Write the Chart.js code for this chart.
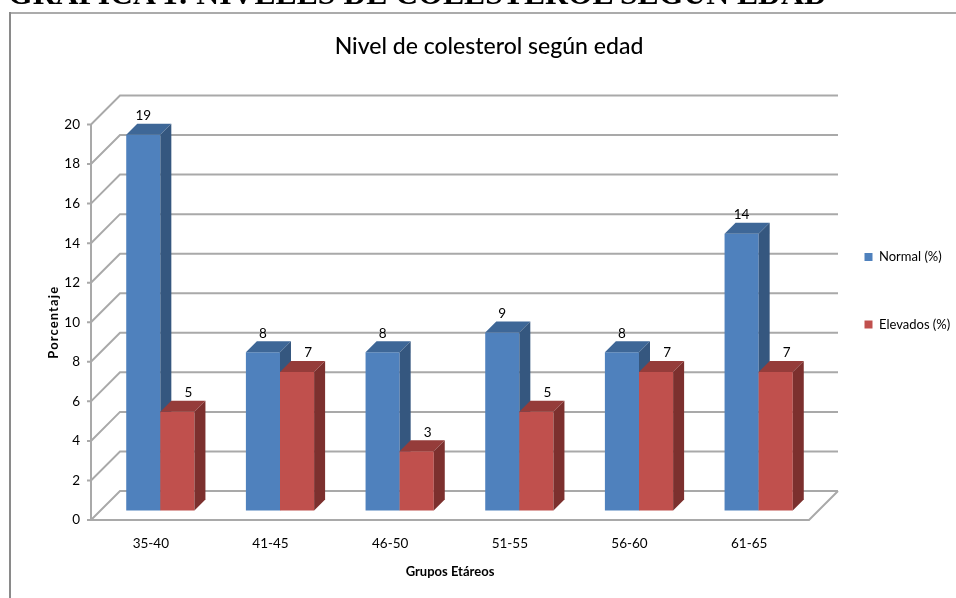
<!DOCTYPE html>
<html lang="es">
<head>
<meta charset="utf-8">
<title>Nivel de colesterol según edad</title>
<script src="https://cdn.jsdelivr.net/npm/chart.js@4.4.1/dist/chart.umd.min.js"></script>
<style>
  html, body { margin: 0; padding: 0; background: #fff; }
  body { width: 956px; height: 598px; position: relative; overflow: hidden; }
  #heading {
    position: absolute; left: 8px; top: -22.3px;
    font: bold 31.7px/32px "Liberation Serif", "Times New Roman", serif;
    color: #000; white-space: nowrap;
  }
  #frameTop { position: absolute; left: 9px; top: 12px; width: 947px; height: 0; border-top: 2px solid #ababab; }
  #frameLeft { position: absolute; left: 9px; top: 12px; width: 0; height: 586px; border-left: 2px solid #8a8a8a; }
  #wrap { position: absolute; left: 0; top: 0; width: 956px; height: 598px; }
</style>
</head>
<body>
<div id="wrap"><canvas id="chart" width="956" height="598"></canvas></div>
<div id="frameTop"></div>
<div id="frameLeft"></div>
<div id="heading">GRAFICA 1: NIVELES DE COLESTEROL SEGUN EDAD</div>
<script>
// Age groups and the share of people with normal / high cholesterol in each
const categories = ['35-40', '41-45', '46-50', '51-55', '56-60', '61-65'];
const normalPct = [19, 8, 8, 9, 8, 14];
const elevadosPct = [5, 7, 3, 5, 7, 7];
const seriesLabels = ['Normal (%)', 'Elevados (%)'];
const yMin = 0;
const yMax = 20;
const yStep = 2;

// Styling
const FONT = "Lato, 'Open Sans', sans-serif";
const TEXT = '#000';
const GRID = '#a9a9a9';
const faceColors = [
  { front: '#4f81bd', top: '#3e6797', side: '#35577f' },
  { front: '#c0504d', top: '#953c3a', side: '#7c302e' }
];
const WALL_DEPTH = 29;   // oblique offset from the front plane to the back wall
const BAR_FRONT = 9.5;   // bars stand this far behind the front edge of the floor
const BAR_DEPTH = 11;    // thickness of each bar
const labelShift = [0, 11];
const LABEL_RISE = 19;

Chart.defaults.font.family = FONT;

// Oblique 3D look: walls, floor and box-shaped bars built on the chart's own scales
const box3d = {
  id: 'box3d',
  afterLayout(chart) {
    const lg = chart.legend;
    if (lg) {
      lg.left = chart.chartArea.right + 1;
      lg.top = 196;
    }
  },
  beforeDraw(chart) {
    const ys = chart.scales.y;
    if (ys && !ys._spacedTitle) {
      const orig = ys.drawTitle;
      ys.drawTitle = function (...args) {
        const c = this.ctx;
        c.save();
        c.letterSpacing = '1.1px';
        orig.apply(this, args);
        c.restore();
      };
      ys._spacedTitle = true;
    }
  },
  beforeDatasetsDraw(chart) {
    const { ctx, chartArea: a, scales: { y } } = chart;
    ctx.save();
    ctx.strokeStyle = GRID;
    ctx.lineWidth = 2;
    y.ticks.forEach(t => {
      const py = y.getPixelForValue(t.value);
      ctx.beginPath();
      ctx.moveTo(a.left - 4, py);
      ctx.lineTo(a.left, py);
      ctx.lineTo(a.left + WALL_DEPTH, py - WALL_DEPTH);
      ctx.lineTo(a.right + WALL_DEPTH, py - WALL_DEPTH);
      ctx.stroke();
    });
    const b = y.getPixelForValue(yMin);
    ctx.beginPath();
    ctx.moveTo(a.left, y.getPixelForValue(yMax));
    ctx.lineTo(a.left, b);
    ctx.lineTo(a.right, b);
    ctx.lineTo(a.right + WALL_DEPTH, b - WALL_DEPTH);
    ctx.stroke();
    ctx.restore();
  },
  beforeDatasetDraw() {
    return false;
  },
  afterDatasetsDraw(chart) {
    const ctx = chart.ctx;
    const metas = chart.data.datasets.map((_, i) => chart.getDatasetMeta(i));
    ctx.save();
    ctx.translate(BAR_FRONT, -BAR_FRONT);
    categories.forEach((_, i) => {
      metas.forEach((meta, d) => {
        const el = meta.data[i];
        const { x, y, base, width } = el.getProps(['x', 'y', 'base', 'width'], true);
        const l = x - width / 2;
        const r = x + width / 2;
        const c = faceColors[d];
        el.draw(ctx);
        ctx.fillStyle = c.top;
        ctx.beginPath();
        ctx.moveTo(l, y);
        ctx.lineTo(r, y);
        ctx.lineTo(r + BAR_DEPTH, y - BAR_DEPTH);
        ctx.lineTo(l + BAR_DEPTH, y - BAR_DEPTH);
        ctx.closePath();
        ctx.fill();
        ctx.fillStyle = c.side;
        ctx.beginPath();
        ctx.moveTo(r, y);
        ctx.lineTo(r + BAR_DEPTH, y - BAR_DEPTH);
        ctx.lineTo(r + BAR_DEPTH, base - BAR_DEPTH);
        ctx.lineTo(r, base);
        ctx.closePath();
        ctx.fill();
      });
    });
    ctx.fillStyle = TEXT;
    ctx.font = `13.5px ${FONT}`;
    ctx.textAlign = 'center';
    ctx.textBaseline = 'middle';
    metas.forEach((meta, d) => {
      meta.data.forEach((el, i) => {
        const v = chart.data.datasets[d].data[i];
        ctx.fillText(String(v), el.x + labelShift[d], el.y - LABEL_RISE);
      });
    });
    ctx.restore();
  }
};

const datasets = [normalPct, elevadosPct].map((values, d) => ({
  label: seriesLabels[d],
  data: values,
  backgroundColor: faceColors[d].front,
  borderColor: faceColors[d].front,
  borderWidth: 0,
  inflateAmount: 0,
  categoryPercentage: 0.57,
  barPercentage: 1
}));

new Chart(document.getElementById('chart'), {
  type: 'bar',
  data: { labels: categories, datasets },
  options: {
    responsive: false,
    animation: false,
    layout: { padding: { left: 22, right: 0, top: 0, bottom: 0 } },
    scales: {
      x: {
        offset: true,
        grid: { display: false, drawTicks: false },
        border: { display: false },
        ticks: { color: TEXT, font: { size: 13.5 }, padding: 15.9, maxRotation: 0, autoSkip: false },
        title: {
          display: true, text: 'Grupos Etáreos', color: TEXT,
          font: { size: 13, weight: 'bold' }, padding: { top: 0, bottom: 18.2 }
        },
        afterFit(s) { s.height = 78; }
      },
      y: {
        min: yMin,
        max: yMax,
        grid: { display: false, drawTicks: false },
        border: { display: false },
        ticks: { stepSize: yStep, color: TEXT, font: { size: 13.5 }, padding: 11 },
        title: {
          display: true, text: 'Porcentaje', color: TEXT,
          font: { size: 13, weight: 'bold' }, padding: { top: 24.2, bottom: 0 }
        },
        afterFit(s) { s.width = 69; }
      }
    },
    plugins: {
      title: {
        display: true,
        text: 'Nivel de colesterol según edad',
        color: '#000',
        font: { size: 23, weight: 500 },
        padding: { top: 33.2, bottom: 63.7 }
      },
      legend: {
        position: 'right',
        align: 'start',
        maxWidth: 147,
        labels: {
          boxWidth: 8,
          boxHeight: 8,
          padding: 54.5,
          color: TEXT,
          font: { size: 13 }
        }
      },
      tooltip: { enabled: false }
    }
  },
  plugins: [box3d]
});
</script>
</body>
</html>
